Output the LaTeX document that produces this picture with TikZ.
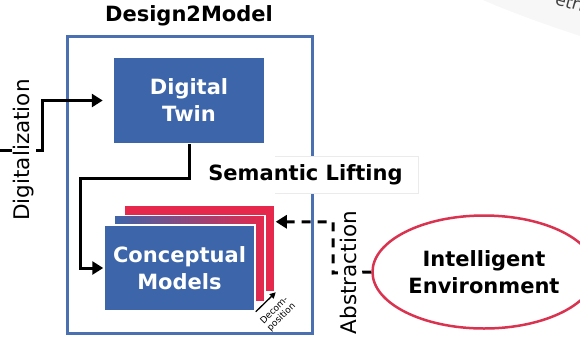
\documentclass[tikz,border=0pt]{standalone}
\usepackage{fontspec}
\setmainfont{DejaVu Sans}
\usetikzlibrary{arrows.meta,shapes.geometric,positioning}
\definecolor{dmblue}{HTML}{3D65A9}
\definecolor{frameblue}{HTML}{4A70B2}
\definecolor{cardred}{HTML}{E5284C}
\definecolor{envred}{HTML}{D93350}
\colorlet{fadebg}{gray!6}
\tikzset{card/.style = {minimum width=151pt, minimum height=86pt, draw=white, line width=1.5pt, inner sep=0pt}}
\tikzset{bigtext/.style = {font=\fontsize{21}{27}\selectfont\bfseries, align=center}}
\tikzset{sidelabel/.style = {font=\fontsize{21.5}{25}\selectfont, fill=white, inner sep=2pt, rotate=90}}
\tikzset{flow/.style = {line width=3pt, -{Triangle[length=11pt,width=13pt]}}}
\tikzset{dashflow/.style = {flow, dash pattern=on 9pt off 7pt}}

\begin{document}
\begin{tikzpicture}[x=1pt,y=-1pt]
	\useasboundingbox (0,0) rectangle (580,338);
	% faded part of the next picture, top right
	\begin{scope}
		\clip (0,0) rectangle (580,338);
		\fill[fadebg] (483,0) .. controls (515,14) and (550,26) .. (580,36) -- (580,0) -- cycle;
		\node[rotate=-16, font=\fontsize{17}{17}\selectfont, text=black!75] (fragment) at (570,2) {etri};
	\end{scope}
	% title and frame
	\node[bigtext] (title) at (189,16) {Design2Model};
	\node[draw=frameblue, line width=3pt, minimum width=245pt, minimum height=297pt] (frame) at (189.5,184.5) {};
	\node[draw=black!8, fill=white, minimum width=143pt, minimum height=37pt] (liftbox) at (346.5,174.5) {};
	\node[bigtext, fill=white, minimum height=36pt, inner xsep=0pt] (lifting) at (305.5,175) {Semantic Lifting};
	% boxes
	\node[card, fill=dmblue, bigtext, text=white] (twin) at (189,100.5) {Digital\\Twin};
	\node[card, fill=cardred] (back) at (199.5,248.5) {};
	\node[card, left color=dmblue, right color=cardred] (middle) at (189.5,258.5) {};
	\node[card, fill=dmblue, bigtext, text=white] (models) at (179.5,268) {Conceptual\\Models};
	\node[ellipse, draw=envred, line width=2.5pt, minimum width=190pt, minimum height=113pt, bigtext] (env) at (484,272) {Intelligent\\Environment};
	% connectors
	\coordinate (dstart) at (0,150);
	\coordinate (dbend) at (42,150);
	\draw[flow, shorten >=10pt] (dstart) -- node[sidelabel, pos=0.57] {Digitalization} (dbend) |- (twin.west);
	\draw[flow] (twin.south) |- (80,178) |- (models.west);
	\coordinate (abend) at (333,273);
	\draw[dashflow] (env.west) -- node[sidelabel, pos=0.6] {Abstraction} (abend) |- ([yshift=-17pt]back.north east);
	\draw[line width=1.3pt, -{Triangle[length=6pt,width=6pt]}] (models.south east) -- (back.south east);
	\node[rotate=45, font=\fontsize{9}{10}\selectfont, align=center] (decomp) at (278,314) {Decom-\\position};
\end{tikzpicture}
\end{document}
